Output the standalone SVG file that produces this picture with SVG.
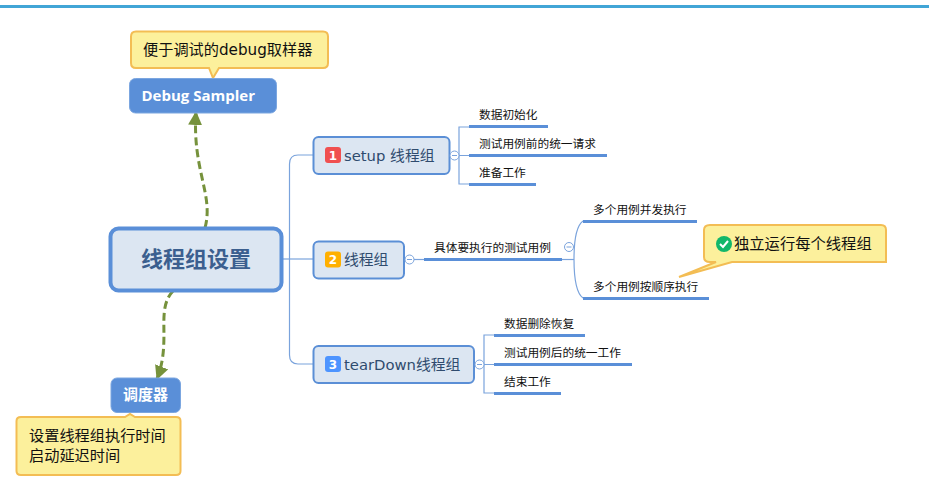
<svg xmlns="http://www.w3.org/2000/svg" width="929" height="486" viewBox="0 0 929 486">
<defs>
<marker id="arrow" markerUnits="userSpaceOnUse" markerWidth="15" markerHeight="15" refX="13" refY="7" orient="auto"><path d="M0,0 L14,7 L0,14 Z" fill="#76923c"/></marker>
<style>
text{font-family:"DejaVu Sans","Noto Sans CJK SC",sans-serif;}
.t{font-size:11.7px;fill:#111;}
.m{font-size:14.800px;fill:#2f4b6e;}
.sub{fill:#dce6f2;stroke:#5b8fd6;stroke-width:2;}
.dark{fill:#5a8fd8;stroke:#7ba6e0;stroke-width:1;}
.call{fill:#fcf09c;stroke:#f3bd54;stroke-width:2;}
.w{font-weight:bold;fill:#fff;}
.l{fill:none;stroke:#7aa3dc;stroke-width:1.2;}
.u{stroke:#5a8fd8;stroke-width:3;}
.c{fill:#fff;stroke:#7aa3dc;stroke-width:1;}
.mi{stroke:#7aa3dc;stroke-width:1;}
.badge{font-size:12px;font-weight:bold;fill:#fff;text-anchor:middle;}
.d{fill:none;stroke:#76923c;stroke-width:3;stroke-dasharray:8 4;}
</style>
</defs>
<rect x="0" y="5" width="929" height="3" fill="#41a5d6"/>
<g id="connectors">
<path class="l" d="M283,259 H313"/>
<path class="l" d="M313,155 H298 Q289.500,155 289.500,164 V355 Q289.500,364 298,364 H313"/>
<path class="l" d="M459,155.500 V127 H469 M459,155.500 H469 M459,155.500 V184 H469 M450,155.500 H459"/>
<path class="l" d="M484,364.500 V335 H494 M484,364.500 H494 M484,364.500 V393 H494 M475,364.500 H484"/>
<path class="l" d="M404,259.500 H424"/>
<path class="l" d="M562,259.500 H574"/>
<path class="l" d="M583,221 C576,226 574,240 574,259 C574,278 576,293 583,298"/>
<path class="d" d="M205,228 C214,195 192,170 196,112" marker-end="url(#arrow)"/>
<path class="d" d="M173,291 C155,310 172,340 157,379" marker-end="url(#arrow)"/>
</g>
<g id="root"><rect x="110.500" y="228.500" width="171" height="62" rx="8" fill="#dce6f2" stroke="#5a8fd8" stroke-width="4"/><text x="196" y="267" text-anchor="middle" font-size="22" font-weight="bold" fill="#3b5f8f">线程组设置</text></g>
<g id="debug-note"><path class="call" d="M136,31.500 H323 Q328,31.500 328,36.500 V63 Q328,68 323,68 H219 L213,78 L209,68 H136 Q131,68 131,63 V36.500 Q131,31.500 136,31.500 Z"/><text x="143" y="55" font-size="15.200" fill="#111">便于调试的debug取样器</text></g>
<g id="debug"><rect class="dark" x="129.500" y="78.500" width="147" height="34.500" rx="6"/><text class="w" x="141.500" y="101" font-size="15" style="font-family:'Open Sans','Noto Sans',sans-serif">Debug Sampler</text></g>
<g id="scheduler"><rect class="dark" x="111" y="378" width="69.500" height="34.500" rx="6"/><text class="w" x="145.500" y="400" font-size="15" text-anchor="middle">调度器</text></g>
<g id="scheduler-note"><path class="call" d="M21,417 H125 L130,414 L135,417 H176 Q180.500,417 180.500,421 V471 Q180.500,475 176,475 H21 Q16.500,475 16.500,471 V421 Q16.500,417 21,417 Z"/><text x="29" y="441" font-size="15.200" fill="#111">设置线程组执行时间</text><text x="29" y="461" font-size="15.200" fill="#111">启动延迟时间</text></g>
<g id="setup"><rect class="sub" x="313.500" y="137" width="136" height="37" rx="5"/><rect x="325" y="147" width="16" height="16" rx="3" fill="#f05050"/><text class="badge" x="333" y="160">1</text><text class="m" x="344" y="161">setup 线程组</text></g>
<g id="group"><rect class="sub" x="313.500" y="241.500" width="90.500" height="37" rx="5"/><rect x="325" y="251.500" width="16" height="16" rx="3" fill="#ffb000"/><text class="badge" x="333" y="264">2</text><text class="m" x="344" y="265">线程组</text></g>
<g id="teardown"><rect class="sub" x="313.500" y="346" width="160.500" height="37" rx="5"/><rect x="325" y="356" width="16" height="16" rx="3" fill="#4d94ff"/><text class="badge" x="333" y="369">3</text><text class="m" x="344" y="370">tearDown线程组</text></g>
<g id="toggle-setup"><circle class="c" cx="454.500" cy="155.500" r="4.500"/><path class="mi" d="M452,155.500 H457"/></g>
<g id="toggle-group"><circle class="c" cx="409.500" cy="259.500" r="4.500"/><path class="mi" d="M407,259.500 H412"/></g>
<g id="toggle-teardown"><circle class="c" cx="479.500" cy="364.500" r="4.500"/><path class="mi" d="M477,364.500 H482"/></g>
<g id="toggle-run"><circle class="c" cx="569" cy="247" r="4.500"/><path class="mi" d="M566.500,247 H571.500"/></g>
<g id="n1"><path class="u" d="M469,126.500 H548"/><text class="t" x="479" y="119">数据初始化</text></g>
<g id="n2"><path class="u" d="M469,155.500 H607"/><text class="t" x="479" y="148">测试用例前的统一请求</text></g>
<g id="n3"><path class="u" d="M469,184.500 H536"/><text class="t" x="479" y="177">准备工作</text></g>
<g id="n4"><path class="u" d="M424,259.500 H562"/><text class="t" x="434" y="252">具体要执行的测试用例</text></g>
<g id="n5"><path class="u" d="M583,221.500 H697"/><text class="t" x="593" y="214">多个用例并发执行</text></g>
<g id="n6"><path class="u" d="M583,298.500 H709"/><text class="t" x="593" y="291">多个用例按顺序执行</text></g>
<g id="n7"><path class="u" d="M494,335.500 H585"/><text class="t" x="504" y="328">数据删除恢复</text></g>
<g id="n8"><path class="u" d="M494,364.500 H632"/><text class="t" x="504" y="357">测试用例后的统一工作</text></g>
<g id="n9"><path class="u" d="M494,393.500 H561"/><text class="t" x="504" y="386">结束工作</text></g>
<g id="independent-note"><path class="call" d="M710,225 H881 Q886,225 886,230 V262 H732 L679,277 L716,262 H710 Q704,262 704,257 V230 Q704,225 710,225 Z"/><circle cx="724" cy="244" r="8" fill="#12b76a"/><path d="M720,244 L723,247 L728,241" fill="none" stroke="#fff" stroke-width="2"/><text x="734" y="249" font-size="15.300" fill="#111">独立运行每个线程组</text></g>
</svg>
